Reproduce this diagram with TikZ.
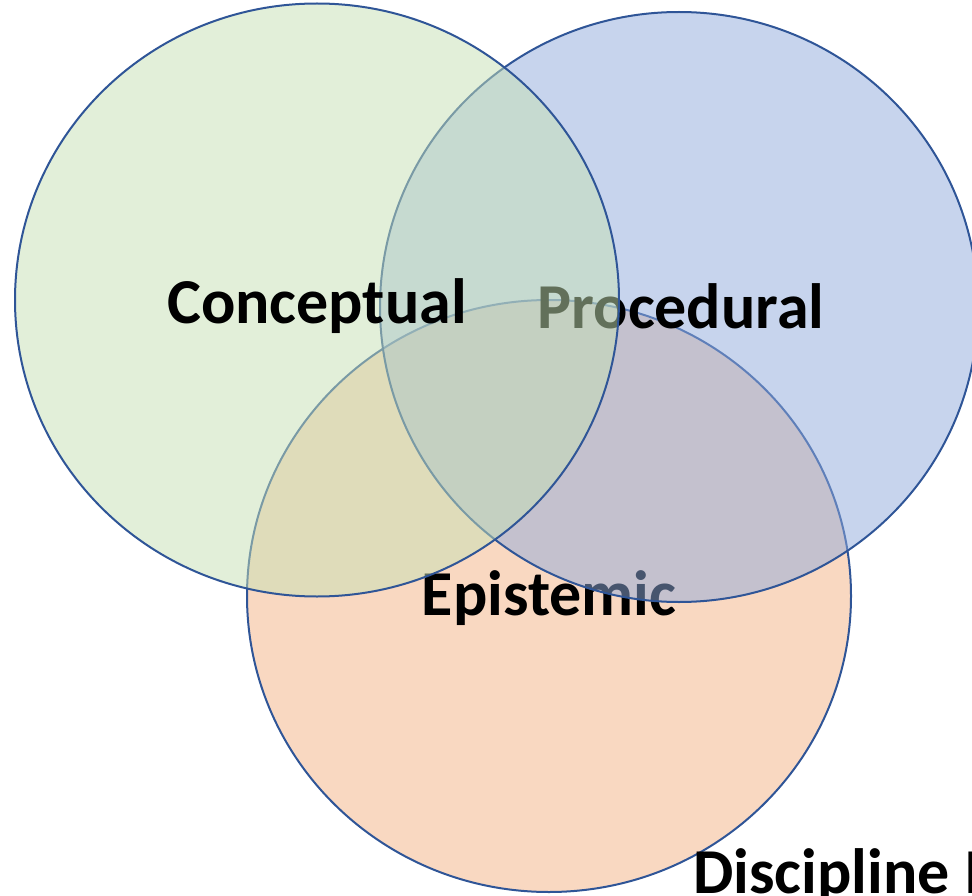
\documentclass[tikz,border=0pt]{standalone}
\usepackage{fontspec}
\setmainfont{Carlito}
\usetikzlibrary{shapes.geometric}
\definecolor{edgeblue}{HTML}{2F5597}
\definecolor{cgreen}{HTML}{C5E0B4}
\definecolor{cblue}{HTML}{8FAADC}
\definecolor{corange}{HTML}{F4B183}
\begin{document}
\begin{tikzpicture}[x=1pt,y=-1pt,
  setc/.style={ellipse, draw=edgeblue, line width=2pt, fill opacity=0.5, draw opacity=1, inner sep=0pt},
  lbl/.style={font=\fontsize{64}{64}\selectfont\bfseries, anchor=base, inner sep=0pt, text=black}]
\useasboundingbox (0,0) rectangle (972,896);
\clip (0,0) rectangle (972,896);
\node[setc, fill=corange, minimum width=604pt, minimum height=592pt] (epi) at (549,596) {};
\node[lbl] (tepi) at (549,615) {Epistemic};
\node[setc, fill=cblue, minimum width=598pt, minimum height=590pt] (pro) at (679,307) {};
\node[lbl] (tpro) at (681,328) {Procedural};
\node[setc, fill=cgreen, minimum width=604pt, minimum height=593pt] (con) at (317,300) {};
\node[lbl] (tcon) at (317,323) {Conceptual};
\node[lbl, anchor=base west] (tdis) at (693,893) {Discipline I};
\end{tikzpicture}
\end{document}
